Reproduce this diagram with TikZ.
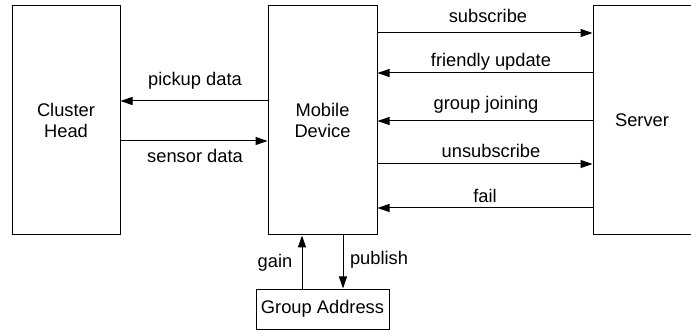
\documentclass[tikz,border=0pt]{standalone}
\usepackage{fontspec}
\setmainfont{Liberation Sans}
\usetikzlibrary{arrows.meta}
\begin{document}
\begin{tikzpicture}[x=1pt,y=-1pt,
  box/.style={draw, line width=1pt, inner sep=0pt, align=center},
  msg/.style={line width=1pt, -{Triangle[length=12pt,width=8pt]}},
  lbl/.style={anchor=base, inner sep=0pt},
  every node/.style={font=\fontsize{18.3}{21}\selectfont}]
\useasboundingbox (0,0) rectangle (691,331);
\node[box, minimum width=108pt, minimum height=229pt] (ch) at (66,120.5) {Cluster\\Head};
\node[box, minimum width=109pt, minimum height=229pt] (md) at (322.5,120.5) {Mobile\\Device};
\node[box, minimum width=98pt, minimum height=229pt] (sv) at (642,120.5) {Server};
\node[box, minimum width=133pt, minimum height=40pt] (ga) at (322.5,309) {Group Address};
% coordinates on box edges
\draw[msg] (md.west |- 0,101) -- (ch.east |- 0,101);
\draw[msg] (ch.east |- 0,141) -- (md.west |- 0,141);
\draw[msg] (md.east |- 0,33) -- (sv.west |- 0,33);
\draw[msg] (sv.west |- 0,73) -- (md.east |- 0,73);
\draw[msg] (sv.west |- 0,121) -- (md.east |- 0,121);
\draw[msg] (md.east |- 0,164) -- (sv.west |- 0,164);
\draw[msg] (sv.west |- 0,208) -- (md.east |- 0,208);
\draw[msg] (ga.north -| 302,0) -- (md.south -| 302,0);
\draw[msg] (md.south -| 343,0) -- (ga.north -| 343,0);
\node[lbl] (l1) at (195,86) {pickup data};
\node[lbl] (l2) at (195,163) {sensor data};
\node[lbl] (l3) at (488,23) {subscribe};
\node[lbl] (l4) at (491,67) {friendly update};
\node[lbl] (l5) at (486,110) {group joining};
\node[lbl] (l6) at (491,158) {unsubscribe};
\node[lbl] (l7) at (485,203) {fail};
\node[lbl] (l8) at (275,268) {gain};
\node[lbl] (l9) at (379,265) {publish};
\end{tikzpicture}
\end{document}
